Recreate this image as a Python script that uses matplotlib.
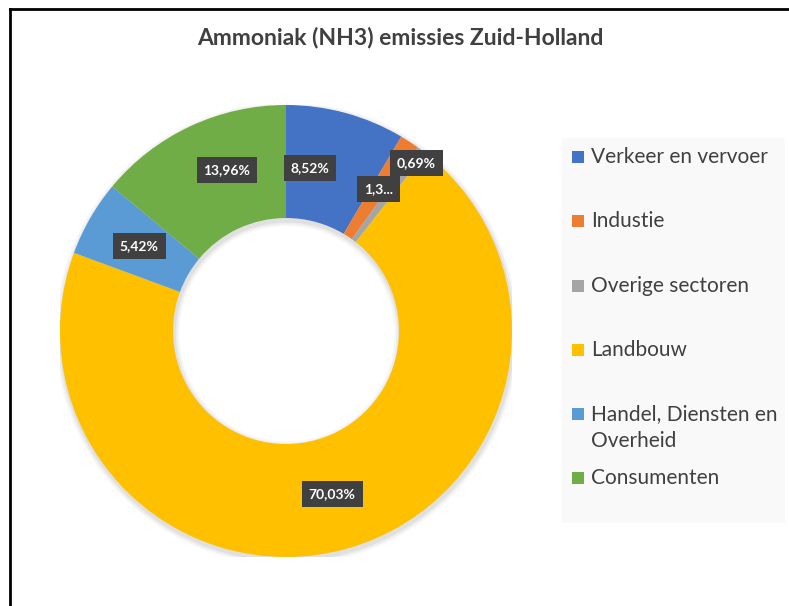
import matplotlib.pyplot as plt
import matplotlib.patches as mpatches
import numpy as np

plt.rcParams['font.family'] = ['Lato', 'DejaVu Sans']

categories = ["Verkeer en vervoer", "Industie", "Overige sectoren", "Landbouw",
              "Handel, Diensten en\nOverheid", "Consumenten"]
values = [8.52, 1.38, 0.69, 70.03, 5.42, 13.96]
value_labels = ["8,52%", "1,3...", "0,69%", "70,03%", "5,42%", "13,96%"]
colors = ["#4472C4", "#ED7D31", "#A5A5A5", "#FFC000", "#5B9BD5", "#70AD47"]

# label placement (radius, angle shift in degrees) per slice
label_r = [0.73, 0.75, 0.94, 0.75, 0.75, 0.76]
label_shift = [7, 0, -1, 0, 0, -5]

W, H = 789, 606
fig = plt.figure(figsize=(W / 100, H / 100), dpi=100)

# donut axes: center (286, 331) px, radius 226 px
cx, cy, R = 286, 331, 226
ax = fig.add_axes([(cx - R) / W, (H - cy - R) / H, 2 * R / W, 2 * R / H])

# soft shadow behind ring
for i, a in enumerate([0.05, 0.04, 0.03]):
    ax.add_patch(mpatches.Wedge((0.004, -0.012), 1.0 + 0.008 * (i + 1), 0, 360,
                                width=0.5 + 0.016 * (i + 1), color='#000000',
                                alpha=a, lw=0, zorder=0))

wedges, _ = ax.pie(values, colors=colors, startangle=90, counterclock=False,
                   radius=1.0, wedgeprops=dict(width=0.5, edgecolor='none'))
for w in wedges:
    w.set_zorder(2)
ax.set_xlim(-1, 1)
ax.set_ylim(-1, 1)
ax.set_aspect('equal')
ax.axis('off')

for w, lab, r, sh in zip(wedges, value_labels, label_r, label_shift):
    ang = np.deg2rad((w.theta1 + w.theta2) / 2 + sh)
    ax.text(r * np.cos(ang), r * np.sin(ang), lab, ha='center', va='center',
            color='white', fontsize=10, fontweight='bold', zorder=5,
            bbox=dict(boxstyle='square,pad=0.5', fc='#404040', ec='none'))

fig.text(400 / W, 1 - 38 / H, "Ammoniak (NH3) emissies Zuid-Holland",
         ha='center', va='center', fontsize=16.5, fontweight='bold', color='#404040')

# legend panel
fig.patches.append(mpatches.Rectangle((562 / W, 1 - 523 / H), (785 - 562) / W,
                                      (523 - 138) / H, transform=fig.transFigure,
                                      fc='#F9F9F9', ec='none', zorder=0))
legend_y = [157, 221, 286, 350, 414, 478]
for name, c, y in zip(categories, colors, legend_y):
    fig.patches.append(mpatches.Rectangle((572 / W, 1 - (y + 6) / H), 12 / W, 12 / H,
                                          transform=fig.transFigure, fc=c, ec='none'))
    fig.text(591 / W, 1 - (y - 10) / H, name, ha='left', va='top', fontsize=15,
             color='#404040', linespacing=1.45)

# outer frame
fig.add_artist(plt.Line2D([10 / W, 10 / W], [0, 1 - 9 / H], transform=fig.transFigure,
                          color='black', lw=2))
fig.add_artist(plt.Line2D([10 / W, 1], [1 - 9 / H, 1 - 9 / H], transform=fig.transFigure,
                          color='black', lw=2))

fig.savefig('out.png', dpi=100)
